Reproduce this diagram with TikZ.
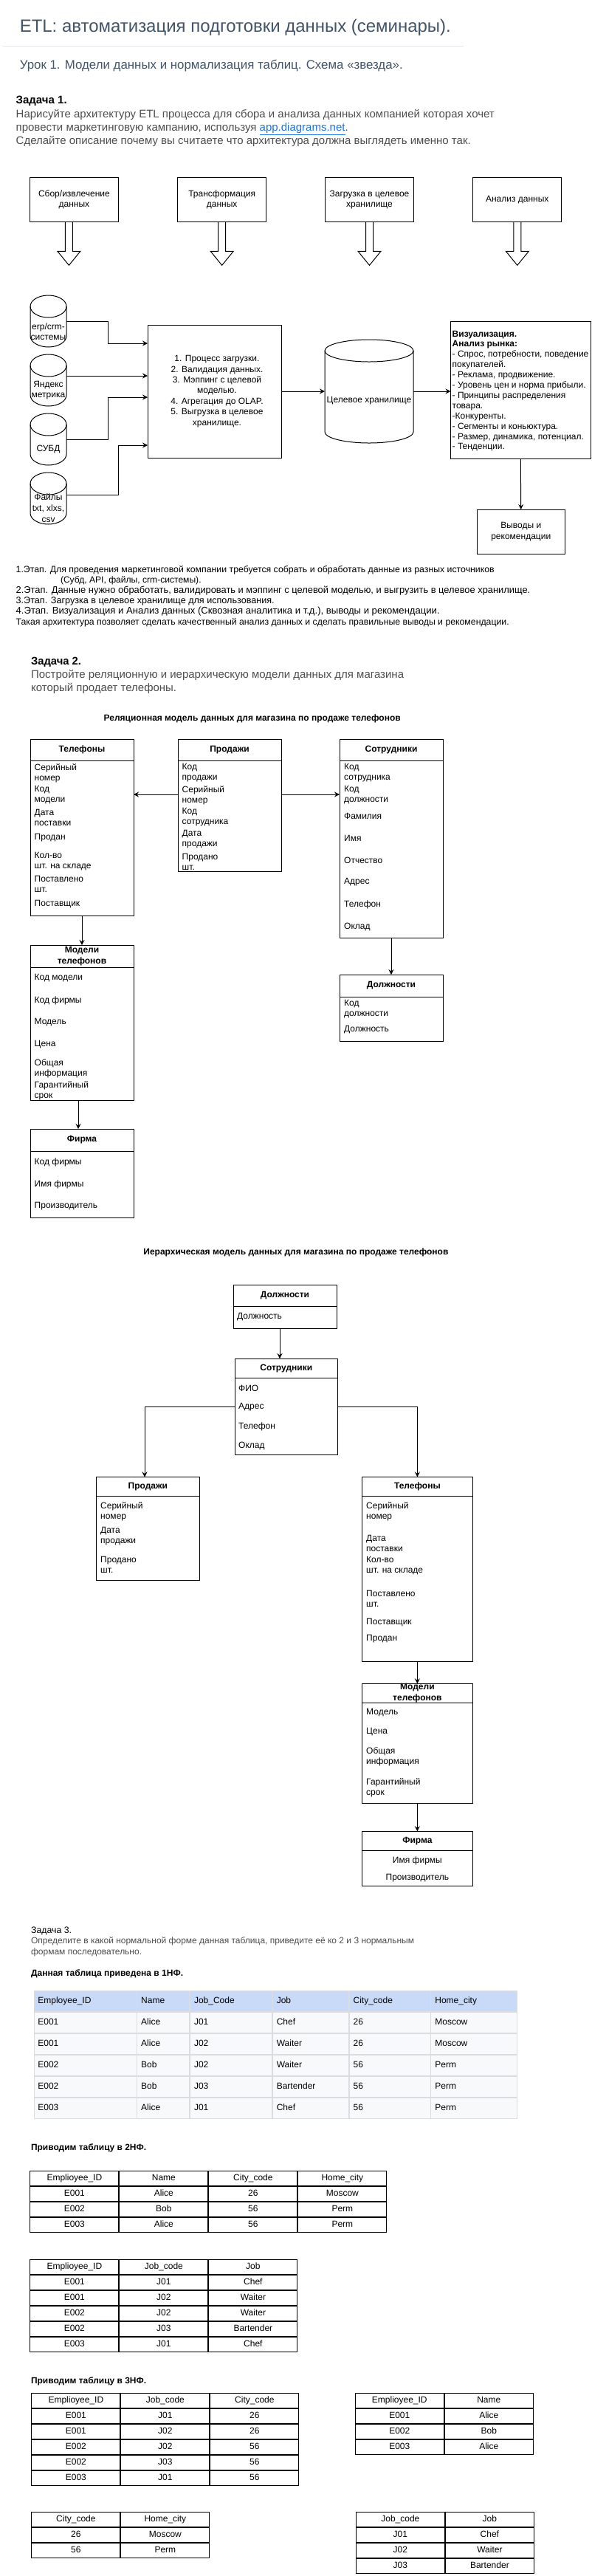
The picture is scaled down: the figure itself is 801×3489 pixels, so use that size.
\documentclass[tikz,border=0pt]{standalone}
\usepackage{fontspec}
\setmainfont{Liberation Sans}
\usepackage{graphicx}
\usetikzlibrary{arrows.meta,calc,matrix}
\definecolor{titlecol}{HTML}{435468}
\definecolor{paragray}{HTML}{4F4F4F}
\definecolor{linkblue}{HTML}{1A73E8}
\definecolor{rulecol}{HTML}{E6E8EE}
\definecolor{hdrbg}{HTML}{C9DAF8}
\definecolor{rowbg}{HTML}{F8F9FA}
\definecolor{gridgray}{HTML}{DADCE0}
\newcommand\myfs[2]{\fontsize{#1}{#2}\selectfont}
\tikzset{
 ln/.style={line width=1pt},
 arr/.style={line width=1pt,-{Stealth[length=7pt,width=7pt,inset=2.5pt]}},
 boxn/.style={draw,line width=1pt,inner sep=0pt,outer sep=0pt,align=center,font=\myfs{12}{14.4}},
 txt/.style={inner sep=0pt,anchor=base west},
 fld/.style={inner sep=0pt,anchor=west,align=left,font=\myfs{12}{14}},
 hdr/.style={inner sep=0pt,align=center,font=\bfseries\myfs{12}{15}},
 tabbox/.style={draw,line width=1pt,inner sep=0pt,outer sep=0pt},
 gt/.style={matrix of nodes,inner sep=0pt,outer sep=0pt,column sep=0pt,row sep=0pt,anchor=north west,
   nodes={draw=black,line width=1pt,minimum width=120pt,minimum height=20pt,inner sep=0pt,outer sep=0pt,
   anchor=center,text height=8.8pt,text depth=2.6pt,font=\myfs{12}{14}}},
}
% entity table: name, x, y, width, header height, total height, header text
\newcommand\etab[7]{%
 \node[tabbox,minimum width=#4,minimum height=#6,anchor=north west] (#1) at (#2,#3) {};
 \draw[ln] ($(#1.north west)+(0,#5)$) -- ($(#1.north east)+(0,#5)$);
 \node[hdr] (#1-h) at ($(#1.north)+(0,#5/2)$) {#7};
}
\newcommand\fields[3]{%
 \foreach \ftxt/\yy [count=\i] in {#3} \node[fld] (#1-\i) at (#2,\yy) {\ftxt};
}
% cylinder: name, cx, top, rx, height, ry
\newcommand\cylnode[6]{%
 \draw[ln,fill=white] (#2-#4,#3+#6) -- (#2-#4,#3+#5-#6)
   arc[start angle=180,end angle=360,x radius=#4pt,y radius=#6pt] -- (#2+#4,#3+#6)
   arc[start angle=0,end angle=180,x radius=#4pt,y radius=#6pt] -- cycle;
 \draw[ln] (#2-#4,#3+#6) arc[start angle=180,end angle=360,x radius=#4pt,y radius=#6pt];
 \node[inner sep=0pt,outer sep=0pt,minimum width=2*#4,minimum height=#5,anchor=north] (#1) at (#2,#3) {};
}
\newcommand\blkarrow[1]{%
 \draw[ln] ($(#1)+(-5,0)$) -- ++(0,40) -- ++(-10.5,0) -- ++(15.5,19) -- ++(15.5,-19) -- ++(-10.5,0) -- ++(0,-40);
}
\begin{document}
\begin{tikzpicture}[x=1pt,y=-1pt]
\useasboundingbox[fill=white] (0,0) rectangle (801,3489);

% ---------- header ----------
\node[txt,text=titlecol] (title) at (26.6,43.5) {\resizebox{584pt}{!}{ETL: автоматизация подготовки данных (семинары).}};
\draw[rulecol,line width=1pt] (2.5,62) -- (628,62);
\node[txt,text=titlecol] (subtitle) at (26.6,93) {\resizebox{519pt}{!}{Урок 1. Модели данных и нормализация таблиц. Схема «звезда».}};
\node[txt] (z1) at (21.5,140) {\resizebox{69pt}{!}{\bfseries Задача 1.}};
\node[txt,text=paragray] (z1a) at (21.5,159.5) {\resizebox{648pt}{!}{Нарисуйте архитектуру ETL процесса для сбора и анализа данных компанией которая хочет}};
\node[txt,text=paragray] (z1b) at (21.5,177.3) {\resizebox{450pt}{!}{провести маркетинговую кампанию, используя \textcolor{linkblue}{\underline{app.diagrams.net}}.}};
\node[txt,text=paragray] (z1c) at (21.5,195.2) {\resizebox{616pt}{!}{Сделайте описание почему вы считаете что архитектура должна выглядеть именно так.}};

% ---------- ETL stages ----------
\node[boxn,minimum width=120,minimum height=60] (b1) at (100.4,270.3) {Сбор/извлечение\\данных};
\node[boxn,minimum width=120,minimum height=60] (b2) at (300.7,270.3) {Трансформация\\данных};
\node[boxn,minimum width=120,minimum height=60] (b3) at (500.5,270.3) {Загрузка в целевое\\хранилище};
\node[boxn,minimum width=120,minimum height=60] (b4) at (700.8,270.3) {Анализ данных};
\coordinate (ba1) at ($(b1.south)+(-7,0)$);
\blkarrow{ba1}
\blkarrow{b2.south}
\blkarrow{b3.south}
\blkarrow{b4.south}

% sources
\cylnode{c1}{65.5}{400}{24.5}{70}{15}
\cylnode{c2}{65.5}{480}{24.5}{70}{15}
\cylnode{c3}{65.5}{560}{24.5}{70}{15}
\cylnode{c4}{65.5}{640}{24.5}{70}{15}
\node[inner sep=0pt,align=center,font=\myfs{12}{14.4}] (c1l) at (65.5,449) {erp/crm-\\системы};
\node[inner sep=0pt,align=center,font=\myfs{12}{14.4}] (c2l) at (65.5,528.5) {Яндекс\\метрика};
\node[inner sep=0pt,align=center,font=\myfs{12}{14.4}] (c3l) at (65.5,608) {СУБД};
\node[inner sep=0pt,align=center,font=\myfs{12}{15}] (c4l) at (65.5,688) {Файлы\\txt, xlxs,\\csv};

\node[boxn,minimum width=181,minimum height=180,anchor=north west] (pbox) at (200,440) {};
\node[inner sep=0pt,align=center,font=\myfs{12}{14.4}] (ptext) at (294,530) {1. Процесс загрузки.\\2. Валидация данных.\\3. Мэппинг с целевой\\моделью.\\4. Агрегация до OLAP.\\5. Выгрузка в целевое\\хранилище.};

\cylnode{tgt}{500}{460}{60}{140}{15}
\node[inner sep=0pt,font=\myfs{12}{14.4}] (tgtl) at (500,543) {Целевое хранилище};

\node[boxn,minimum width=189.5,minimum height=186,anchor=north west] (vis) at (610.5,435) {};
\foreach \ftxt [count=\i] in {{\bfseries Визуализация.},{\bfseries Анализ рынка:},{- Спрос, потребности, поведение},{покупателей.},{- Реклама, продвижение.},{- Уровень цен и норма прибыли.},{- Принципы распределения},{товара.},{-Конкуренты.},{- Сегменты и коньюктура.},{- Размер, динамика, потенциал.},{- Тенденции.}}
  \node[txt,font=\myfs{12}{14}] (vis-\i) at (612.5,{456+13.9*(\i-1)}) {\ftxt};

\node[boxn,minimum width=119.5,minimum height=60,anchor=north west] (out) at (646,690) {Выводы и\\рекомендации};

\coordinate (j1) at (146,465);
\coordinate (j2) at (0,509);
\coordinate (j3) at (146,538);
\coordinate (j4a) at (160,670);
\coordinate (j4b) at (160,603);
\draw[arr] (c1.east) -| (j1) -- (pbox.west |- j1);
\draw[arr] (c2.east |- j2) -- (pbox.west |- j2);
\draw[arr] (c3.east) -| (j3) -- (pbox.west |- j3);
\draw[arr] (c4.east |- j4a) -- (j4a) -- (j4b) -- (pbox.west |- j4b);
\draw[arr] (pbox.east) -- (tgt.west);
\draw[arr] (tgt.east) -- (vis.west |- tgt.east);
\draw[arr] (vis.south) -- (out.north);

% stage description
\node[txt] (s1) at (21.5,775) {\resizebox{648pt}{!}{1.Этап. Для проведения маркетинговой компании требуется собрать и обработать данные из разных источников}};
\node[txt] (s1b) at (81.8,789.3) {\resizebox{190.6pt}{!}{(Субд, API, файлы, crm-системы).}};
\node[txt] (s2) at (21.5,803.5) {\resizebox{696.5pt}{!}{2.Этап. Данные нужно обработать, валидировать и мэппинг с целевой моделью, и выгрузить в целевое хранилище.}};
\node[txt] (s3) at (21.5,817.7) {\resizebox{350pt}{!}{3.Этап. Загрузка в целевое хранилище для использования.}};
\node[txt] (s4) at (21.5,831.9) {\resizebox{574pt}{!}{4.Этап. Визуализация и Анализ данных (Сквозная аналитика и т.д.), выводы и рекомендации.}};
\node[txt] (s5) at (21.5,846.1) {\resizebox{668pt}{!}{Такая архитектура позволяет сделать качественный анализ данных и сделать правильные выводы и рекомендации.}};

% ---------- task 2 ----------
\node[txt] (z2) at (41.9,900.5) {\resizebox{68pt}{!}{\bfseries Задача 2.}};
\node[txt,text=paragray] (z2a) at (41.9,918.8) {\resizebox{505pt}{!}{Постройте реляционную и иерархическую модели данных для магазина}};
\node[txt,text=paragray] (z2b) at (41.9,936.8) {\resizebox{197pt}{!}{который продает телефоны.}};
\node[txt] (reltitle) at (140.5,976.7) {\resizebox{402pt}{!}{\bfseries Реляционная модель данных для магазина по продаже телефонов}};

\etab{tel}{41}{1001}{140}{29}{239}{Телефоны}
\fields{tel}{46.5}{{Серийный\\номер}/1047,{Код\\модели}/1077,{Дата\\поставки}/1107,Продан/1135,{Кол-во\\шт. на складе}/1167,{Поставлено\\шт.}/1197,Поставщик/1225}
\etab{prod}{241}{1001}{140}{29}{179}{Продажи}
\fields{prod}{246.5}{{Код\\продажи}/1047,{Серийный\\номер}/1077,{Код\\сотрудника}/1107,{Дата\\продажи}/1137,{Продано\\шт.}/1167}
\etab{sotr}{460}{1001}{140}{29}{269}{Сотрудники}
\fields{sotr}{466}{{Код\\сотрудника}/1047,{Код\\должности}/1077,Фамилия/1105,Имя/1135,Отчество/1165,Адрес/1195,Телефон/1225,Оклад/1255}
\etab{model}{41}{1280}{140}{30}{210}{Модели\\телефонов}
\fields{model}{46.5}{Код модели/1325,Код фирмы/1355,Модель/1385,Цена/1415,{Общая\\информация}/1447,{Гарантийный\\срок}/1477}
\etab{firma}{41}{1529}{140}{30}{120}{Фирма}
\fields{firma}{46.5}{Код фирмы/1574,Имя фирмы/1604,Производитель/1634}
\etab{dolzh}{460}{1320}{140}{30}{90}{Должности}
\fields{dolzh}{466}{{Код\\должности}/1367,Должность/1395}

\coordinate (ry) at (0,1076);
\coordinate (mx) at (106,0);
\draw[arr] (prod.west |- ry) -- (tel.east |- ry);
\draw[arr] (prod.east |- ry) -- (sotr.west |- ry);
\draw[arr] (tel.south) -- (model.north);
\draw[arr] (mx |- model.south) -- (mx |- firma.north);
\draw[arr] (sotr.south) -- (dolzh.north);

% hierarchical
\node[txt] (hiertitle) at (194.2,1699) {\resizebox{413pt}{!}{\bfseries Иерархическая модель данных для магазина по продаже телефонов}};
\etab{hdolzh}{316}{1740}{140}{29.5}{59.5}{Должности}
\fields{hdolzh}{321}{Должность/1784}
\etab{hsotr}{318}{1840}{139.5}{26.3}{130.3}{Сотрудники}
\fields{hsotr}{323}{ФИО/1880,Адрес/1906,Телефон/1932,Оклад/1958}
\etab{hprod}{130.3}{2000.5}{140}{26.2}{139.8}{Продажи}
\fields{hprod}{136}{{Серийный\\номер}/2047,{Дата\\продажи}/2081,{Продано\\шт.}/2119}
\etab{htel}{490.5}{2000.5}{149.8}{26.2}{249.8}{Телефоны}
\fields{htel}{496}{{Серийный\\номер}/2047,{Дата\\поставки}/2090.5,{Кол-во\\шт. на складе}/2121,{Поставлено\\шт.}/2165,Поставщик/2198,Продан/2220}
\etab{hmodel}{490.5}{2280.3}{149.8}{26.4}{162}{Модели\\телефонов}
\fields{hmodel}{496}{Модель/2320,Цена/2346,{Общая\\информация}/2379,{Гарантийный\\срок}/2421}
\etab{hfirma}{490.5}{2480.3}{149.8}{26}{73.7}{Фирма}
\node[fld,anchor=center] (hfirma-1) at (565.4,2520) {Имя фирмы};
\node[fld,anchor=center] (hfirma-2) at (565.4,2544) {Производитель};

\coordinate (hx) at (379,0);
\coordinate (hy) at (0,1905.3);
\coordinate (hl) at (196,0);
\draw[arr] (hx |- hdolzh.south) -- (hx |- hsotr.north);
\draw[arr] (hsotr.west |- hy) -| (hl |- hprod.north);
\draw[arr] (hsotr.east |- hy) -| (htel.north);
\draw[arr] (htel.south) -- (hmodel.north);
\draw[arr] (hmodel.south) -- (hfirma.north);

% ---------- task 3 ----------
\node[txt] (z3) at (41.9,2618.3) {\resizebox{55pt}{!}{Задача 3.}};
\node[txt,text=paragray] (z3a) at (41.9,2632.3) {\resizebox{519pt}{!}{Определите в какой нормальной форме данная таблица, приведите её ко 2 и 3 нормальным}};
\node[txt,text=paragray] (z3b) at (41.9,2647.3) {\resizebox{150pt}{!}{формам последовательно.}};
\node[txt] (nf1) at (41.9,2676.3) {\resizebox{206pt}{!}{\bfseries Данная таблица приведена в 1НФ.}};

\matrix (t1) [matrix of nodes,inner sep=0pt,outer sep=0pt,column sep=0pt,row sep=0pt,anchor=north west,
  nodes={draw=gridgray,line width=0.8pt,fill=rowbg,minimum height=28.2pt,inner xsep=5.5pt,inner ysep=0pt,outer sep=0pt,
    anchor=center,align=left,text height=8.8pt,text depth=2.6pt,font=\myfs{12}{14}},
  row 1/.style={nodes={fill=hdrbg}},
  column 1/.style={nodes={text width=128pt}},
  column 2/.style={nodes={text width=60pt}},
  column 3/.style={nodes={text width=100pt}},
  column 4/.style={nodes={text width=92pt}},
  column 5/.style={nodes={text width=99pt}},
  column 6/.style={nodes={text width=105pt}}] at (45.5,2696) {
  Employee\_ID & Name & Job\_Code & Job & City\_code & Home\_city \\
  E001 & Alice & J01 & Chef & 26 & Moscow \\
  E001 & Alice & J02 & Waiter & 26 & Moscow \\
  E002 & Bob & J02 & Waiter & 56 & Perm \\
  E002 & Bob & J03 & Bartender & 56 & Perm \\
  E003 & Alice & J01 & Chef & 56 & Perm \\
};

\node[txt] (nf2) at (41.9,2912.3) {\resizebox{156pt}{!}{\bfseries Приводим таблицу в 2НФ.}};
\matrix (t2a) [gt] at (40.4,2940.3) {
  Emplioyee\_ID & Name & City\_code & Home\_city \\
  E001 & Alice & 26 & Moscow \\
  E002 & Bob & 56 & Perm \\
  E003 & Alice & 56 & Perm \\
};
\matrix (t2b) [gt] at (40.4,3060.3) {
  Emplioyee\_ID & Job\_code & Job \\
  E001 & J01 & Chef \\
  E001 & J02 & Waiter \\
  E002 & J02 & Waiter \\
  E002 & J03 & Bartender \\
  E003 & J01 & Chef \\
};

\node[txt] (nf3) at (41.9,3228) {\resizebox{156pt}{!}{\bfseries Приводим таблицу в 3НФ.}};
\matrix (t3a) [gt] at (42.4,3240.7) {
  Emplioyee\_ID & Job\_code & City\_code \\
  E001 & J01 & 26 \\
  E001 & J02 & 26 \\
  E002 & J02 & 56 \\
  E002 & J03 & 56 \\
  E003 & J01 & 56 \\
};
\matrix (t3b) [gt] at (480.8,3240.7) {
  Emplioyee\_ID & Name \\
  E001 & Alice \\
  E002 & Bob \\
  E003 & Alice \\
};
\matrix (t3c) [gt] at (42.4,3402.3) {
  City\_code & Home\_city \\
  26 & Moscow \\
  56 & Perm \\
};
\matrix (t3d) [gt] at (481.9,3402.3) {
  Job\_code & Job \\
  J01 & Chef \\
  J02 & Waiter \\
  J03 & Bartender \\
};
\end{tikzpicture}
\end{document}
